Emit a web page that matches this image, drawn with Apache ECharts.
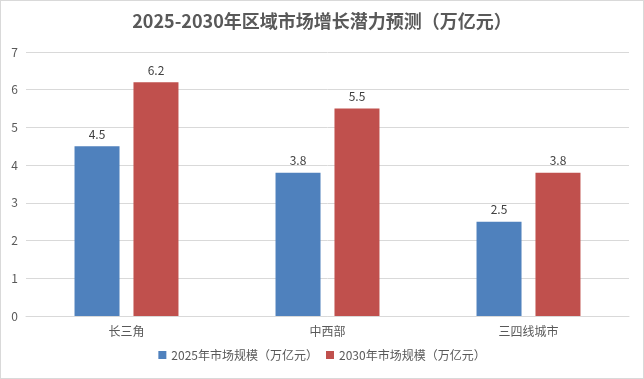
<!DOCTYPE html>
<html><head><meta charset="utf-8">
<script src="https://cdn.jsdelivr.net/npm/echarts@6/dist/echarts.min.js"></script>
<style>html,body{margin:0;padding:0;background:#fff}#c{width:644px;height:379px;box-sizing:border-box;border:1px solid #d9d9d9}</style>
</head><body><div id="c"></div>
<script>
const categories = ['长三角', '中西部', '三四线城市'];
const values2025 = [4.5, 3.8, 2.5];
const values2030 = [6.2, 5.5, 3.8];
const seriesNames = ['2025年市场规模（万亿元）', '2030年市场规模（万亿元）'];
const chart = echarts.init(document.getElementById('c'));
const font = '"Noto Sans CJK SC", "Microsoft YaHei", sans-serif';
chart.setOption({
  animation: false,
  title: {text: '2025-2030年区域市场增长潜力预测（万亿元）', left: 'center', top: 6,
    textStyle: {fontSize: 18, fontWeight: 'bold', color: '#595959', fontFamily: font}},
  legend: {bottom: 12, left: 'center', itemWidth: 8, itemHeight: 8, itemGap: 8,
    icon: 'rect', textStyle: {fontSize: 12, color: '#595959', fontFamily: font}},
  grid: {left: 25, right: 14, top: 51, bottom: 62},
  xAxis: {type: 'category', data: categories,
    axisLine: {lineStyle: {color: '#d9d9d9'}}, axisTick: {show: false},
    axisLabel: {fontSize: 12, color: '#595959', fontFamily: font, margin: 9}},
  yAxis: {type: 'value', min: 0, max: 7, interval: 1,
    axisLine: {show: false}, axisTick: {show: false},
    splitLine: {lineStyle: {color: '#d9d9d9'}},
    axisLabel: {fontSize: 12, color: '#595959', fontFamily: font, margin: 8}},
  series: [
    {name: seriesNames[0], type: 'bar', data: values2025, barWidth: 45, barGap: '31%',
     itemStyle: {color: '#4F81BD'},
     label: {show: true, position: 'top', fontSize: 12, color: '#404040', fontFamily: font, distance: 6}},
    {name: seriesNames[1], type: 'bar', data: values2030, barWidth: 45,
     itemStyle: {color: '#C0504D'},
     label: {show: true, position: 'top', fontSize: 12, color: '#404040', fontFamily: font, distance: 6}}
  ]
});
</script></body></html>
